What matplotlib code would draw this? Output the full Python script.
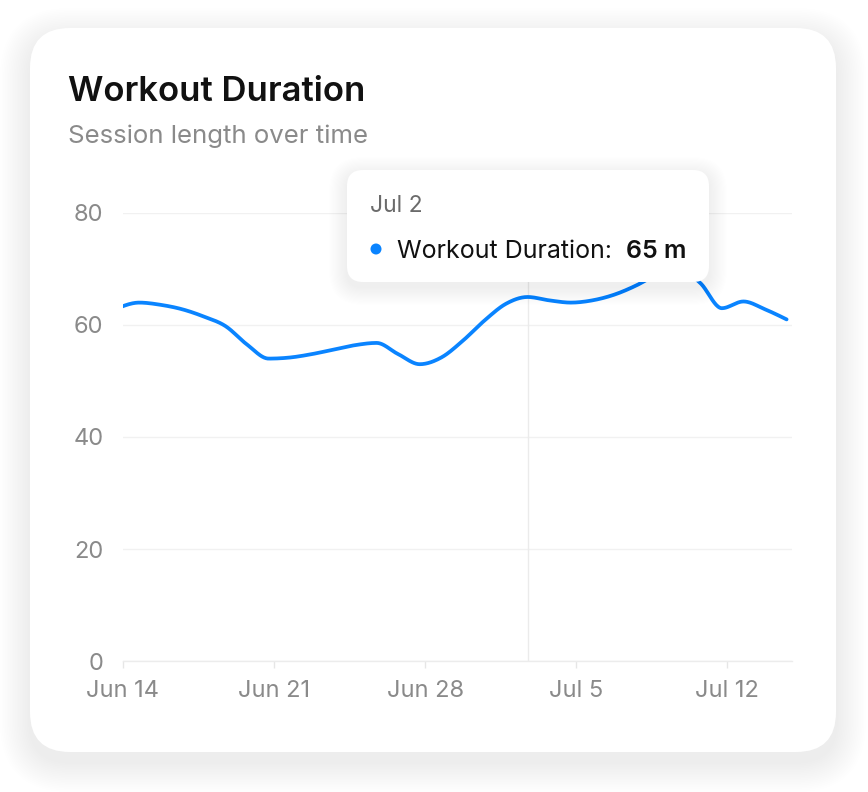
import numpy as np
import matplotlib
matplotlib.use("Agg")
import matplotlib.pyplot as plt
import matplotlib.dates as mdates
from matplotlib.patches import FancyBboxPatch, Circle
from matplotlib.transforms import IdentityTransform
import pandas as pd

# ---------------- data ----------------
dates = pd.date_range("2024-06-13 18:00", periods=32, freq="D")
values = [63.0, 64.0, 63.6, 62.8, 61.5, 59.8, 56.5, 54.0, 54.2, 54.8, 55.6,
          56.4, 56.8, 54.8, 53.0, 54.2, 57.2, 60.8, 63.8, 65.0, 64.4, 64.0,
          64.4, 65.4, 67.0, 69.0, 70.0, 67.5, 63.0, 64.2, 62.8, 61.0]
y_ticks = [0, 20, 40, 60, 80]
x_ticks = ["2024-06-14", "2024-06-21", "2024-06-28", "2024-07-05", "2024-07-12"]
x_tick_labels = ["Jun 14", "Jun 21", "Jun 28", "Jul 5", "Jul 12"]
x_range = ["2024-06-14", "2024-07-15"]
title = "Workout Duration"
subtitle = "Session length over time"
series_name = "Workout Duration"
hover_index = 19  # Jul 2
unit = "m"

FONT = ["Inter", "DejaVu Sans"]
plt.rcParams['font.family'] = FONT
BLUE = "#0A84FF"

W, H = 868, 792
fig = plt.figure(figsize=(W / 100, H / 100), dpi=100)
fig.patch.set_facecolor("#ffffff")


def px_box(x0, y0, x1, y1, r, **kw):
    # top-left origin pixel coords -> display coords
    return FancyBboxPatch((x0, H - y1), x1 - x0, y1 - y0,
                          boxstyle=f"round,pad=0,rounding_size={r}",
                          transform=IdentityTransform(), **kw)


def shadow(x0, y0, x1, y1, r, spread, dy, alpha, n=18, z=0):
    for i in range(n):
        s = spread * (i + 1) / n
        fig.patches.append(px_box(x0 - s, y0 - s + dy, x1 + s, y1 + s + dy, r + s,
                                  facecolor="black", edgecolor="none",
                                  alpha=alpha, zorder=z))


# card
shadow(30, 28, 836, 752, 40, 30, 10, 0.0032)
fig.patches.append(px_box(30, 28, 836, 752, 40, facecolor="white",
                          edgecolor="none", zorder=1))

# title
fig.text(68 / W, 1 - 101 / H, title, fontsize=25, fontweight="semibold",
         color="#111111", ha="left", va="baseline")
fig.text(68 / W, 1 - 143.5 / H, subtitle, fontsize=18.6, color="#8a8a8a",
         ha="left", va="baseline")

# axes
L, R, T, B = 123, 792, 213, 661
ax = fig.add_axes([L / W, 1 - B / H, (R - L) / W, (B - T) / H])
ax.set_facecolor("none")
ax.set_zorder(2)


def monotone_x(x, y, n=24):
    x = np.asarray(x, float)
    y = np.asarray(y, float)
    h = np.diff(x)
    s = np.diff(y) / h
    m = np.zeros_like(y)
    for i in range(1, len(y) - 1):
        s0, s1 = s[i - 1], s[i]
        h0, h1 = h[i - 1], h[i]
        p = (s0 * h1 + s1 * h0) / (h0 + h1)
        m[i] = (np.sign(s0) + np.sign(s1)) * min(abs(s0), abs(s1), 0.5 * abs(p))
    m[0] = (3 * s[0] - m[1]) / 2
    m[-1] = (3 * s[-1] - m[-2]) / 2
    xs, ys = [], []
    t = np.linspace(0, 1, n)
    for i in range(len(x) - 1):
        dx = h[i]
        h00 = 2 * t**3 - 3 * t**2 + 1
        h10 = t**3 - 2 * t**2 + t
        h01 = -2 * t**3 + 3 * t**2
        h11 = t**3 - t**2
        ys.append(h00 * y[i] + h10 * dx * m[i] + h01 * y[i + 1] + h11 * dx * m[i + 1])
        xs.append(x[i] + t * dx)
    return np.concatenate(xs), np.concatenate(ys)


xn = mdates.date2num(dates.to_pydatetime())
sx, sy = monotone_x(xn, values)
ax.plot(sx, sy, color=BLUE, lw=2.7, solid_capstyle="round", zorder=3)

xr = mdates.date2num(pd.to_datetime(x_range).to_pydatetime())
ax.set_xlim(xr[0], xr[1])
ax.set_ylim(y_ticks[0], y_ticks[-1])

ax.set_yticks(y_ticks)
ax.set_yticklabels([str(v) for v in y_ticks])
ax.set_xticks(mdates.date2num(pd.to_datetime(x_ticks).to_pydatetime()))
ax.set_xticklabels(x_tick_labels)

for sp in ["top", "right", "left"]:
    ax.spines[sp].set_visible(False)
ax.spines["bottom"].set_color("#ececec")
ax.spines["bottom"].set_linewidth(1.0)
ax.grid(axis="y", color="#f1f1f1", lw=1.0)
ax.set_axisbelow(True)
ax.tick_params(axis="y", length=0, pad=14, labelsize=17, labelcolor="#8a8a8a")
ax.tick_params(axis="x", length=5, width=1, color="#e6e6e6", pad=8.5,
               labelsize=17, labelcolor="#8a8a8a")

# hover cursor
ax.axvline(xn[hover_index], color="#ebebeb", lw=1.0, zorder=1)

# tooltip
tx0, ty0, tx1, ty1 = 347, 170, 709, 282
shadow(tx0, ty0, tx1, ty1, 16, 18, 5, 0.0035, n=16, z=5)
fig.patches.append(px_box(tx0, ty0, tx1, ty1, 16, facecolor="white",
                          edgecolor="none", zorder=6))
hd = dates[hover_index]
fig.text(370 / W, 1 - 212 / H, f"{hd:%b} {hd.day}", fontsize=16.5,
         color="#6b6b6b", ha="left", va="baseline", zorder=7)
fig.patches.append(Circle((376, H - 249), 5.5, transform=IdentityTransform(),
                          facecolor=BLUE, edgecolor="none", zorder=7))
fig.text(397 / W, 1 - 257.5 / H, f"{series_name}:", fontsize=18,
         color="#111111", ha="left", va="baseline", zorder=7)
fig.text(686 / W, 1 - 257.5 / H, f"{values[hover_index]:.0f} {unit}", fontsize=18,
         fontweight="semibold", color="#111111", ha="right", va="baseline", zorder=7)

fig.savefig("out.png", dpi=100)
